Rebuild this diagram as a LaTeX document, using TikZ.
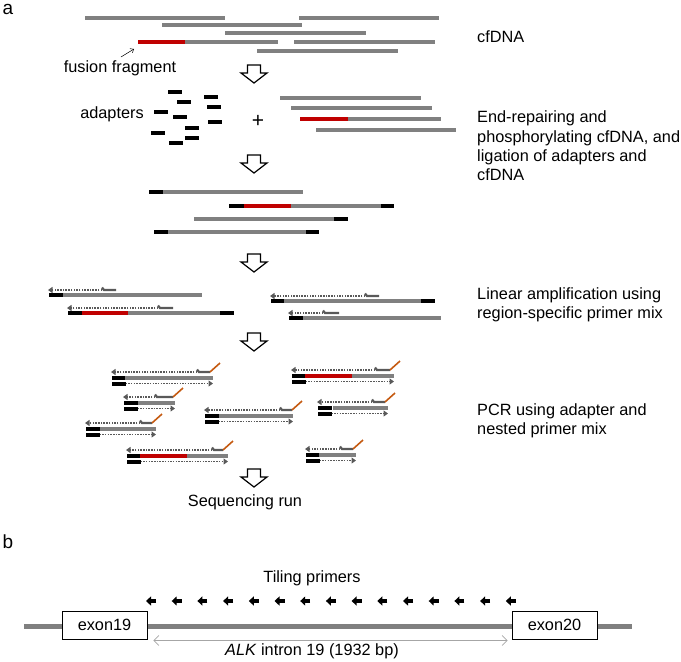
\documentclass[tikz,border=0pt]{standalone}
\usepackage{fontspec}
\setmainfont{Liberation Sans}
\usetikzlibrary{arrows.meta,positioning,calc}
\definecolor{dnagray}{RGB}{128,128,128}
\definecolor{fusred}{RGB}{192,0,0}
\definecolor{extgray}{RGB}{89,89,89}
\definecolor{tailorange}{RGB}{197,90,17}
\tikzset{
  lbl/.style={font=\fontsize{16.3}{19.4}\selectfont, inner sep=0pt},
  panel/.style={font=\fontsize{19}{22}\selectfont, inner sep=0pt},
  stepnote/.style={lbl, anchor=west, align=left},
  dna/.style={draw=dnagray, line width=3.5pt},
  fus/.style={draw=fusred, line width=3.5pt},
  adp/.style={draw=black, line width=4pt},
  ext/.style={-{Triangle[length=4.5pt,width=6pt]}, draw=extgray, line width=1.2pt,
              dash pattern=on 1.5pt off 1.2pt},
  prm/.style={draw=extgray, line width=2.2pt},
  tail/.style={draw=tailorange, line width=1.6pt},
  pointer/.style={-{Straight Barb[length=3pt,width=5pt]}, line width=0.5pt},
  exon/.style={draw, line width=0.8pt, fill=white, minimum width=85pt,
               minimum height=28pt, font=\fontsize{16.3}{19.4}\selectfont},
  intron/.style={draw=dnagray, line width=5pt},
  tile/.style={-{Triangle[length=5pt,width=9pt]}, line width=3.6pt},
  span/.style={{Straight Barb[length=5pt,width=10pt]}-{Straight Barb[length=5pt,width=10pt]},
               draw=gray!70, line width=0.7pt},
  blockarrow/.pic={
    \draw[line width=1.2pt, fill=white] (-6.5,0) -- (6.5,0) -- (6.5,8) -- (13,8)
      -- (0,18) -- (-13,8) -- (-6.5,8) -- cycle;
  }
}

\begin{document}
\begin{tikzpicture}[x=1pt,y=-1pt]
  \useasboundingbox (0,0) rectangle (681,662);

  % panel a
  \node[panel] (pa) at (8,9) {a};

  % cfDNA
  \foreach \xa/\xb/\y in {85/225/18, 299/439/18, 162/302/25, 225/366/33,
                          185/278/42, 294/435/42, 257/398/51}
    \draw[dna] (\xa,\y) -- (\xb,\y);
  \draw[fus] (138,42) -- (185,42);
  \node[lbl] (fusion) at (120,68) {fusion fragment};
  \coordinate (fusbase) at (121,57);
  \coordinate (fustip) at (134,49);
  \draw[pointer] (fusbase) -- (fustip);
  \node[stepnote] (cfdna) at (477,37) {cfDNA};

  \pic at (254,65) {blockarrow};

  % adapters + cfDNA
  \node[lbl] (adapters) at (112,114) {adapters};
  \foreach \xa/\y in {168/92, 177/102, 204/97, 207/107, 154/112, 173/117,
                      208/122, 185/128, 151/133, 185/138, 169/143}
    \draw[adp] (\xa,\y) -- (\xa+14,\y);
  \node[lbl, font=\fontsize{21}{22}\selectfont] (plus) at (258,121) {+};
  \foreach \xa/\xb/\y in {280/421/98, 291/432/108, 348/441/119, 316/456/130}
    \draw[dna] (\xa,\y) -- (\xb,\y);
  \draw[fus] (300,119) -- (348,119);
  \node[stepnote] (ligation) at (477,146) {End-repairing and\\phosphorylating cfDNA, and\\ligation of adapters and\\cfDNA};

  \pic at (254,155) {blockarrow};

  % ligated fragments
  \draw[adp] (149,192) -- (163,192);
  \draw[dna] (163,192) -- (303,192);
  \draw[adp] (229,206) -- (244,206);
  \draw[fus] (244,206) -- (291,206);
  \draw[dna] (291,206) -- (381,206);
  \draw[adp] (381,206) -- (394,206);
  \draw[dna] (194,219) -- (334,219);
  \draw[adp] (334,219) -- (348,219);
  \draw[adp] (154,232) -- (168,232);
  \draw[dna] (168,232) -- (306,232);
  \draw[adp] (306,232) -- (319,232);

  \pic at (254,254) {blockarrow};

  % linear amplification
  \foreach \l/\r/\t/\p/\q/\y in {49/63/202/102/116/295, 68/128/220/158/173/313,
                                 271/284/421/365/379/301, 289/303/441/323/339/318} {
    \draw[adp] (\l,\y) -- (\l+14,\y);
    \draw[dna] (\r,\y) -- (\t,\y);
    \draw[ext] (\p,\y-5) -- (\l-1,\y-5);
    \draw[prm] (\p,\y-7.5) -- (\p+2,\y-5) -- (\q,\y-5);
  }
  \draw[fus] (82,313) -- (128,313);
  \draw[adp] (220,313) -- (234,313);
  \draw[adp] (421,301) -- (435,301);
  \node[stepnote] (linear) at (477,305) {Linear amplification using\\region-specific primer mix};

  \pic at (254,333) {blockarrow};

  % PCR products
  \foreach \l/\r/\t/\p/\q/\y in {112/125/213/197/210/378, 292/352/394/375/390/376,
                                 124/138/175/155/173/403, 205/219/293/280/292/416,
                                 318/333/388/372/385/408, 86/100/156/140/152/429,
                                 127/187/228/212/223/456, 306/319/356/340/353/455} {
    \draw[adp] (\l,\y) -- (\l+13.5,\y);
    \draw[dna] (\r,\y) -- (\t,\y);
    \draw[adp] (\l,\y+5.5) -- (\l+13.5,\y+5.5);
    \draw[ext] (\l+13.5,\y+5.5) -- (\t,\y+5.5);
    \draw[ext] (\p,\y-6) -- (\l-1,\y-6);
    \draw[prm] (\p,\y-8.5) -- (\p+2,\y-6) -- (\q,\y-6);
    \draw[tail] (\q,\y-6) -- (\q+10,\y-15);
  }
  \draw[fus] (305,376) -- (352,376);
  \draw[fus] (140,456) -- (187,456);
  \node[stepnote] (pcr) at (477,421) {PCR using adapter and\\nested primer mix};

  \pic at (254,469) {blockarrow};
  \node[lbl] (seqrun) at (245,502) {Sequencing run};

  % panel b
  \node[panel] (pb) at (8,542) {b};
  \node[lbl] (tiling) at (312,578) {Tiling primers};
  \foreach \i in {0,...,14}
    \draw[tile] (151+25.7*\i+5,601) -- (151+25.7*\i-5,601);
  \coordinate (lineL) at (24,626);
  \coordinate (lineR) at (632,626);
  \draw[intron] (lineL) -- (lineR);
  \node[exon] (ex19) at (104.5,625) {exon19};
  \node[exon] (ex20) at (554.5,625) {exon20};
  \draw[span] ([xshift=6pt,yshift=-1pt]ex19.south east) -- ([xshift=-4pt,yshift=-1pt]ex20.south west);
  \node[lbl] (intronlbl) at (312,651) {\textit{ALK} intron 19 (1932 bp)};
\end{tikzpicture}
\end{document}
